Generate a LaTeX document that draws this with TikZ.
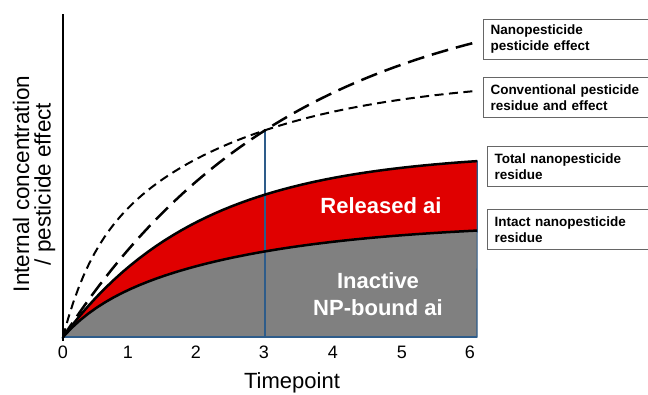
\documentclass[tikz,border=0pt]{standalone}
\usepackage{fontspec}
\setmainfont{Liberation Sans}
\usepackage{tikz}
\pgfdeclarelayer{background}
\pgfdeclarelayer{foreground}
\pgfsetlayers{background,main,foreground}
\definecolor{relred}{RGB}{224,0,0}
\definecolor{boundgray}{RGB}{128,128,128}
\definecolor{edgeblue}{RGB}{46,92,138}
\tikzset{
  declare function={
    tx(\t)=63+68.8*\t;
    totres(\t)=337-185*(1-exp(-0.5*\t));
    intres(\t)=337-20*(1-exp(-2*\t))-95*(1-exp(-0.4*\t));
    nanoeff(\t)=337-353*(1-exp(-0.3*\t));
    conveff(\t)=337-75*(1-exp(-2.5*\t))-186*(1-exp(-0.42*\t));
  },
  residue/.style={line width=2.5pt, black},
  nanodash/.style={line width=2.5pt, dash pattern=on 17pt off 8pt},
  convdash/.style={line width=2pt, dash pattern=on 9pt off 5.5pt},
  legendbox/.style={draw=black!60, line width=1pt, fill=white, anchor=north west, minimum height=40pt, text width=170pt, inner xsep=7pt, align=left, font=\fontsize{13.5}{16}\selectfont\bfseries},
  arealabel/.style={white, align=center, font=\fontsize{22}{27}\selectfont\bfseries},
  ticklabel/.style={anchor=base, font=\fontsize{18}{20}\selectfont}
}

\begin{document}
\begin{tikzpicture}[x=1pt,y=-1pt]

\clip (0,0) rectangle (648,394);

\begin{pgfonlayer}{background}
\fill[boundgray, draw=edgeblue, line width=1.2pt] plot[domain=0:6.02, samples=50] ({tx(\x)},{intres(\x)}) -- (477,337) -- cycle;
\fill[relred, draw=edgeblue, line width=1.2pt] plot[domain=0:6.02, samples=50] ({tx(\x)},{totres(\x)}) -- plot[domain=6.02:0, samples=50] ({tx(\x)},{intres(\x)}) -- cycle;
\end{pgfonlayer}

\draw[edgeblue, line width=2pt] (63,337) -- (477,337);
\draw[edgeblue, line width=1.2pt] (265,337) -- (265,130);
\draw[residue] plot[domain=0:6.02, samples=50] ({tx(\x)},{intres(\x)});
\draw[residue] plot[domain=0:6.02, samples=50] ({tx(\x)},{totres(\x)});
\draw[nanodash] plot[domain=0:6.05, samples=60] ({tx(\x)},{nanoeff(\x)});
\draw[convdash] plot[domain=0:5.99, samples=80] ({tx(\x)},{conveff(\x)});
\draw[line width=2.5pt] (63,341) -- (63,14);

\begin{pgfonlayer}{foreground}
\node[arealabel] (released) at (381,206) {Released ai};
\node[arealabel] (bound) at (378,294) {Inactive\\NP-bound ai};

\node[legendbox] (nanoeffect) at (483,19) {Nanopesticide\\pesticide effect};
\node[legendbox] (conveffect) at (483,77) {Conventional pesticide\\residue and effect};
\node[legendbox] (totalres) at (487,146) {Total nanopesticide\\residue};
\node[legendbox] (intactres) at (487,209) {Intact nanopesticide\\residue};

\foreach \t/\px in {0/63,1/128,2/196,3/264,4/333,5/402,6/470}
  \node[ticklabel] (tick\t) at (\px,358) {\t};
\node[anchor=base, font=\fontsize{22}{24}\selectfont] (xtitle) at (292,388.5) {Timepoint};
\node[rotate=90, inner sep=0pt, align=center, font=\fontsize{22.5}{21.5}\selectfont] (ytitle) at (34,184) {Internal concentration\\/ pesticide effect};
\end{pgfonlayer}

\end{tikzpicture}
\end{document}
